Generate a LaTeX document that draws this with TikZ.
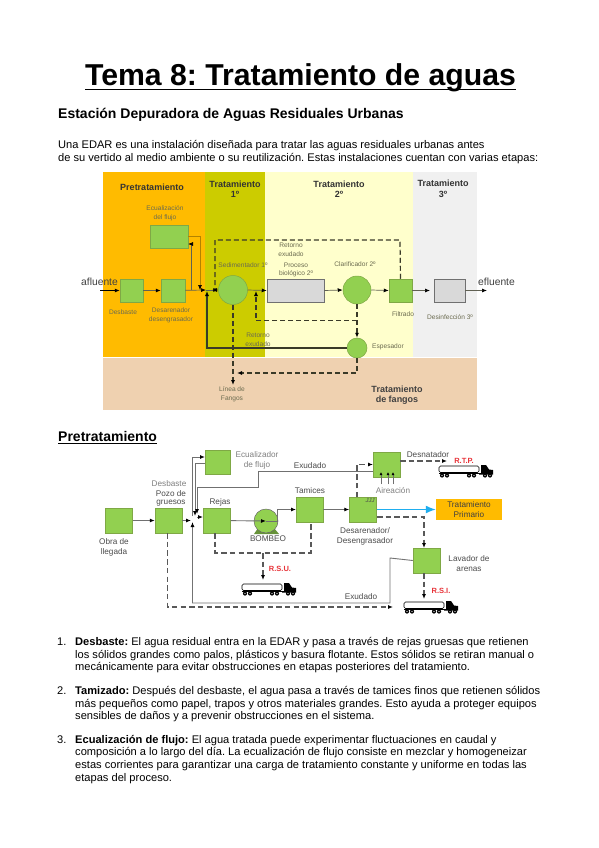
\documentclass[tikz,border=0pt]{standalone}
\usepackage{fontspec}
\setmainfont{Liberation Sans}
\usetikzlibrary{arrows.meta,positioning}
\frenchspacing
\definecolor{gbox}{HTML}{92D050}
\definecolor{gedge}{HTML}{7FA845}
\definecolor{zpre}{HTML}{FFBB00}
\definecolor{zone}{HTML}{CCCC00}
\definecolor{ztwo}{HTML}{FFFFCC}
\definecolor{zthree}{HTML}{F0F0F0}
\definecolor{zfan}{HTML}{EFD1B0}
\definecolor{dline}{HTML}{3A3A28}
\definecolor{glabel}{HTML}{6B6B50}
\definecolor{gl}{HTML}{707070}
\definecolor{redl}{HTML}{E8343A}
\definecolor{blueflow}{HTML}{1FAEEF}
\tikzset{
 x=1pt,y=-1pt,
 txt/.style={anchor=base west,inner sep=0,font=\fontsize{11.1}{12}\selectfont},
 bx/.style={draw=gedge,line width=.5pt,fill=gbox,minimum width=#1,minimum height=23pt,inner sep=0},
 bx/.default=23pt,
 bigbx/.style={draw=gedge,line width=.5pt,fill=gbox,minimum width=27pt,minimum height=25pt,inner sep=0},
 hatchbx/.style={draw=gl,line width=.5pt,fill=black!15,minimum height=23pt,inner sep=0},
 circ/.style={circle,draw=gedge,line width=.5pt,fill=gbox,minimum size=#1,inner sep=0},
 lab/.style={font=\fontsize{6.6}{8.8}\selectfont,text=glabel,align=center,inner sep=0},
 zhead/.style={font=\fontsize{9}{10.5}\selectfont\bfseries,text=black!80,align=center,inner sep=0},
 lab2/.style={font=\fontsize{8.2}{10}\selectfont,text=black!70,align=center,inner sep=0},
 redlab/.style={font=\fontsize{7.5}{9}\selectfont\bfseries,text=redl,inner sep=0},
 flow/.style={draw=dline!80,line width=.7pt,-{Latex[length=5pt,width=4pt,black]}},
 dflow/.style={draw=dline,line width=1.2pt,dash pattern=on 5pt off 3pt,-{Latex[length=5pt,width=4pt,black]}},
 sflow/.style={draw=gl,line width=.9pt,-{Latex[length=5pt,width=4pt,black]}},
 dflow2/.style={draw=black!65,line width=1.2pt,dash pattern=on 5.5pt off 3.2pt,-{Latex[length=5pt,width=4pt,black]}},
 dplain2/.style={draw=black!65,line width=1.2pt,dash pattern=on 5.5pt off 3.2pt},
}
\newcommand{\mytruck}[2]{%
 \begin{scope}[shift={(#1,#2)}]
  \draw[black,fill=white,line width=.6pt,rounded corners=1.5pt] (0,0) rectangle (40,6.5);
  \fill[black] (40,7) -- (40,8.5) -- (54,8.5) -- (54,4) -- (50,3.5) -- (47,-1) -- (42,-1) -- (42,7) -- cycle;
  \fill[black] (0,7) rectangle (42,8);
  \foreach \q in {3,8,30,35,46,51}{\fill[black] (\q,9.5) circle (2.1pt);\fill[white] (\q,9.5) circle (.6pt);}
 \end{scope}}
\begin{document}
\begin{tikzpicture}
\useasboundingbox (0,0) rectangle (599,848);
\fill[white] (0,0) rectangle (599,848);
% headings
\node[anchor=base,inner sep=0,font=\fontsize{30.2}{32}\selectfont\bfseries] (title) at (300.5,86) {Tema 8: Tratamiento de aguas};
\draw[line width=1pt] (85,90) -- (516,90);
\node[anchor=base west,inner sep=0,font=\fontsize{14}{15}\selectfont\bfseries] (sub) at (58,119) {Estación Depuradora de Aguas Residuales Urbanas};
\node[txt] (i1) at (58,149) {Una EDAR es una instalación diseñada para tratar las aguas residuales urbanas antes};
\node[txt] (i2) at (58,161) {de su vertido al medio ambiente o su reutilización. Estas instalaciones cuentan con varias etapas:};
% zones
\fill[zpre] (103,172) rectangle (205,357);
\fill[zone] (205,172) rectangle (265,357);
\fill[ztwo] (265,172) rectangle (413,357);
\fill[zthree] (413,172) rectangle (477,357);
\fill[zfan] (103,358) rectangle (477,410);
\node[zhead] (hp) at (152,187) {Pretratamiento};
\node[zhead] (h1) at (235,189) {Tratamiento\\1º};
\node[zhead] (h2) at (339,189) {Tratamiento\\2º};
\node[zhead] (h3) at (443,189) {Tratamiento\\3º};
\node[zhead,text=black!75] (hf) at (397,395) {Tratamiento\\de fangos};
% nodes 1
\node[font=\fontsize{10.3}{12}\selectfont,text=black!75,inner sep=0] (afl) at (99.5,282) {afluente};
\coordinate (afin) at (100,290.5);
\node[bx] (desb) at (131.5,290.5) {};
\node[bx=24pt] (desa) at (173,290.5) {};
\node[bx=38pt] (ecu) at (169,236.5) {};
\node[circ=29pt] (sed) at (233,290) {};
\node[hatchbx,minimum width=57pt] (pro) at (295.5,290.5) {};
\node[circ=28pt] (cla) at (357,290) {};
\node[bx] (fil) at (400.5,290.5) {};
\node[hatchbx,minimum width=31pt] (des) at (449.5,290.5) {};
\node[circ=20pt] (esp) at (357,348) {};
\node[font=\fontsize{10.3}{12}\selectfont,text=black!75,inner sep=0] (efl) at (496.5,282) {efluente};
\coordinate (efout) at (487,290.5);
\node[lab] (l1) at (123,312) {Desbaste};
\node[lab] (l2) at (171,315) {Desarenador\\desengrasador};
\node[lab] (l3) at (165,213) {Ecualización\\del flujo};
\node[lab] (l4) at (243,265) {Sedimentador 1º};
\node[lab] (l5) at (291,250) {Retorno\\exudado};
\node[lab] (l6) at (296,270) {Proceso\\biológico 2º};
\node[lab] (l7) at (355,264.5) {Clarificador 2º};
\node[lab] (l8) at (403,314) {Filtrado};
\node[lab] (l9) at (450,317) {Desinfección 3º};
\node[lab] (l10) at (258,339.5) {Retorno\\exudado};
\node[lab] (l11) at (388,347) {Espesador};
\node[lab] (l12) at (232,394) {Línea de\\Fangos};
% junctions
\coordinate (j) at (206,290);
\coordinate (jup) at (191.7,290);
\coordinate (jupb) at (191.7,244);
\coordinate (ecub) at (188,244);
\coordinate (jdn) at (200,236.5);
\coordinate (jin) at (212,290);
\coordinate (c1) at (400,240);
\coordinate (c2) at (215,240);
\coordinate (c3) at (215,290);
\coordinate (d1) at (357,320.5);
\coordinate (d2) at (256,320.5);
\coordinate (d3) at (256,291);
\coordinate (e1) at (207,348);
\coordinate (e2) at (207,291);
\coordinate (f1) at (357,373);
\coordinate (f2) at (237,373);
\coordinate (g1) at (233,385);
\coordinate (h1e) at (430,290.5);
% connectors 1
\draw[flow,draw=black] (afin) -- (desb.west);
\draw[flow] (desb) -- (desa);
\draw[flow] (desa) -- (j);
\draw[flow] (jup) -- (jupb) -- (ecub);
\draw[flow,draw=zpre!70!black] (ecu.east) -- (jdn) -- (jdn |- j);
\draw[flow] (j) -- (sed.west);
\draw[flow] (sed.east) -- (pro.west);
\draw[flow] (pro.east) -- (cla.west);
\draw[flow] (cla.east) -- (fil.west);
\draw[flow] (fil.east) -- (h1e);
\draw[flow] (des.east) -- (efout);
\draw[dflow] (fil.north) -- (c1) -- (c2) -- (c3) -- (jin);
\draw[dflow] (cla.south) -- (esp.north);
\draw[dflow] (d1) -- (d2) -- (d3);
\draw[draw=dline,line width=1.2pt,-{Latex[length=5pt,width=4pt,black]}] (esp.west) -- (e1) -- (e2);
\draw[dflow] (esp.south) -- (f1) -- (f2);
\draw[dflow] (sed.south) -- (g1);
% section 2
\node[anchor=base west,inner sep=0,font=\fontsize{14}{15}\selectfont\bfseries] (pre) at (58,441) {Pretratamiento};
\draw[line width=.7pt] (58,443.5) -- (157,443.5);
% nodes 2
\node[bigbx] (obra) at (119,520.5) {};
\node[bigbx] (pozo) at (168.5,520.5) {};
\node[bigbx] (rej) at (217,520.5) {};
\node[bigbx,minimum width=25pt,minimum height=24pt] (eq) at (217.5,462) {};
\node[bigbx] (tam) at (309.5,509.5) {};
\node[bigbx] (dsn) at (363,509.5) {};
\node[bigbx] (top) at (386.5,465) {};
\node[bigbx] (lav) at (426.5,560.5) {};
\node[fill=zpre,minimum width=66pt,minimum height=21pt,inner sep=0,align=center,font=\fontsize{8.2}{9.5}\selectfont,text=black!75] (prim) at (469,509.5) {Tratamiento\\Primario};
% pump
\fill[gbox!70!black] (254,534) -- (258,528) -- (274,528) -- (279,534) -- cycle;
\node[circ=24pt,draw=black!60] (bomb) at (266,521) {};
\node[lab2,text=black!50] (m1) at (169,484) {Desbaste};
\node[lab2] (m2) at (171,494) {Pozo de};
\node[lab2] (m3) at (171,503) {gruesos};
\node[lab2] (m4) at (220,502) {Rejas};
\node[lab2] (m5) at (114,547) {Obra de\\llegada};
\node[lab2] (m6) at (268,539) {BOMBEO};
\node[lab2] (m7) at (310,491) {Tamices};
\node[lab2,text=black!50] (m8) at (257,460.5) {Ecualizador\\de flujo};
\node[lab2] (m9) at (310,466) {Exudado};
\node[lab2] (m10) at (428,455) {Desnatador};
\node[lab2,text=black!50] (m11) at (393,490.5) {Aireación};
\node[lab2] (m12) at (365,536.5) {Desarenador/\\Desengrasador};
\node[lab2] (m13) at (469,563.5) {Lavador de\\arenas};
\node[lab2] (m14) at (361,597) {Exudado};
\node[redlab] (r1) at (280,568.5) {R.S.U.};
\node[redlab] (r2) at (464,460.5) {R.T.P.};
\node[redlab] (r3) at (441,590.5) {R.S.I.};
\mytruck{242}{584}
\mytruck{439}{466}
\mytruck{404}{602}
% connectors 2
\coordinate (k1) at (191,520.5);
\coordinate (k2) at (192,516);
\coordinate (k3) at (192,457);
\coordinate (k4) at (205,457);
\coordinate (k5) at (205,463);
\coordinate (k6) at (195,463);
\coordinate (k7) at (195,516);
\coordinate (k8) at (197,517);
\coordinate (k9) at (203,517);
\coordinate (t1) at (373,471);
\coordinate (t2) at (258,471);
\coordinate (t3) at (258,487);
\coordinate (t4) at (197,487);
\coordinate (t5) at (197,514);
\coordinate (u1) at (390,558);
\coordinate (u2) at (390,603);
\coordinate (u3) at (192.5,603);
\coordinate (u4) at (192.5,522);
\coordinate (v1) at (357,497);
\coordinate (v2) at (357,464.5);
\coordinate (v3) at (373,464.5);
\coordinate (w0) at (400,461);
\coordinate (w1) at (447,461);
\coordinate (x1) at (377,517);
\coordinate (x2) at (424,517);
\coordinate (x3) at (424,548);
\coordinate (x4) at (424,573);
\coordinate (x5) at (424,599);
\coordinate (y1) at (215,533);
\coordinate (y2) at (215,553);
\coordinate (y3) at (311,553);
\coordinate (y4) at (311,522);
\coordinate (y5) at (263,553);
\coordinate (y6) at (263,580);
\coordinate (z1) at (167.5,533);
\coordinate (z2) at (167.5,607);
\coordinate (z3) at (393,607);
\coordinate (p1) at (277,509.5);
\coordinate (p2) at (296,509.5);
\coordinate (p3) at (277,521);
\coordinate (a1s) at (381,484);\coordinate (a1e) at (381,472);
\coordinate (a2s) at (388,484);\coordinate (a2e) at (388,472);
\coordinate (a3s) at (393,484);\coordinate (a3e) at (393,472);
\draw[sflow] (obra) -- (pozo);
\draw[sflow] (pozo) -- (k1);
\draw[sflow] (k2) -- (k3) -- (k4);
\draw[sflow] (k5) -- (k6) -- (k7);
\draw[sflow] (k8) -- (k9);
\draw[sflow] (t1) -- (t2) -- (t3) -- (t4) -- (t5);
\draw[sflow] (rej) -- (bomb.center);
\draw[sflow] (bomb.center) -- (p3) -- (p1) -- (p2);
\draw[sflow] (tam) -- (dsn);
\draw[sflow,draw=black!55] (lav.west) -- (u1) -- (u2) -- (u3) -- (u4);
\draw[dflow2] (v1) -- (v2) -- (v3);
\draw[dflow2] (w0) -- (w1);
\draw[dflow2] (x1) -- (x2) -- (x3);
\draw[dflow2] (x4) -- (x5);
\draw[dplain2] (y1) -- (y2) -- (y3) -- (y4);
\draw[dflow2] (y5) -- (y6);
\draw[dflow2] (z1) -- (z2) -- (z3);
\draw[line width=1.5pt,draw=blueflow,-{Latex[length=10pt,width=8pt]}] (dsn.east) -- (prim.west);
\draw[-{Latex[length=3pt,width=3pt,black]},draw=gl,line width=.6pt] (a1s) -- (a1e);
\draw[-{Latex[length=3pt,width=3pt,black]},draw=gl,line width=.6pt] (a2s) -- (a2e);
\draw[-{Latex[length=3pt,width=3pt,black]},draw=gl,line width=.6pt] (a3s) -- (a3e);
\node[font=\fontsize{6}{7}\selectfont\itshape,inner sep=0,text=black!70] (jjj) at (370,500.5) {JJJ};
% list
\node[txt] (n1) at (57,645) {1.};
\node[txt] (a1) at (75,645) {\textbf{Desbaste:} El agua residual entra en la EDAR y pasa a través de rejas gruesas que retienen};
\node[txt] (a2) at (75,658) {los sólidos grandes como palos, plásticos y basura flotante. Estos sólidos se retiran manual o};
\node[txt] (a3) at (75,670.5) {mecánicamente para evitar obstrucciones en etapas posteriores del tratamiento.};
\node[txt] (n2) at (57,694) {2.};
\node[txt] (b1) at (75,694) {\textbf{Tamizado:} Después del desbaste, el agua pasa a través de tamices finos que retienen sólidos};
\node[txt] (b2) at (75,707) {más pequeños como papel, trapos y otros materiales grandes. Esto ayuda a proteger equipos};
\node[txt] (b3) at (75,719.5) {sensibles de daños y a prevenir obstrucciones en el sistema.};
\node[txt] (n3) at (57,743) {3.};
\node[txt] (c1t) at (75,743) {\textbf{Ecualización de flujo:} El agua tratada puede experimentar fluctuaciones en caudal y};
\node[txt] (c2t) at (75,755.5) {composición a lo largo del día. La ecualización de flujo consiste en mezclar y homogeneizar};
\node[txt] (c3t) at (75,768) {estas corrientes para garantizar una carga de tratamiento constante y uniforme en todas las};
\node[txt] (c4t) at (75,781) {etapas del proceso.};
\end{tikzpicture}
\end{document}
